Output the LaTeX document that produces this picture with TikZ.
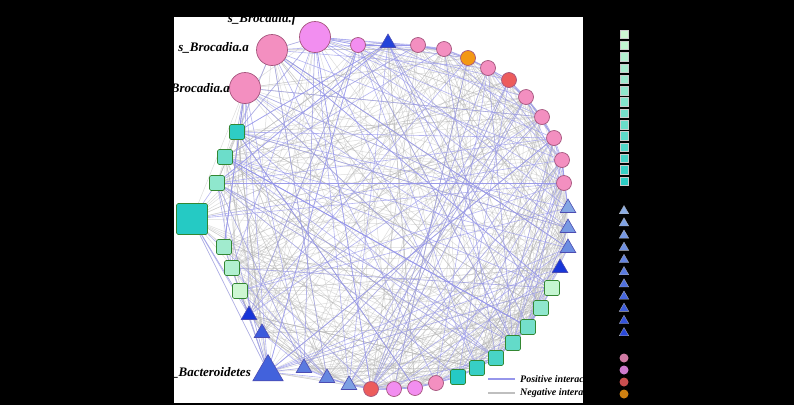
\documentclass[tikz,border=0pt]{standalone}
\usepackage{fontspec}
\setmainfont{Liberation Serif}
\usetikzlibrary{shapes.geometric}

\definecolor{pinkc}{RGB}{243,143,192}
\definecolor{violc}{RGB}{242,142,240}
\definecolor{orgc}{RGB}{243,152,20}
\definecolor{redc}{RGB}{236,92,92}
\definecolor{mintc}{RGB}{205,247,210}
\definecolor{tealc}{RGB}{28,200,195}
\definecolor{skyc}{RGB}{138,172,228}
\definecolor{bluec}{RGB}{18,48,215}
\definecolor{posc}{RGB}{150,150,235}
\definecolor{negc}{RGB}{180,180,180}
\definecolor{rimc}{RGB}{165,85,125}

\pgfdeclarelayer{paper}
\pgfdeclarelayer{links}
\pgfsetlayers{paper,links,main}

\begin{document}
\begin{tikzpicture}[
    x=1pt, y=-1pt,
    dot/.style={circle, draw=rimc, line width=0.7pt, fill=#1, minimum size=15pt, inner sep=0pt},
    bigdot/.style={dot=#1, minimum size=31pt},
    sq/.style={rectangle, rounded corners=1.5pt, draw=black!45!green!60!gray, line width=0.6pt, fill=tealc!#1!mintc, minimum size=15pt, inner sep=0pt},
    tri/.style={regular polygon, regular polygon sides=3, draw=blue!40!gray, line width=0.6pt, fill=bluec!#1!skyc, minimum size=18pt, inner sep=0pt},
    keysq/.style={rectangle, draw=white!60!gray, line width=0.3pt, fill=tealc!#1!mintc, minimum size=8.5pt, inner sep=0pt},
    keytri/.style={regular polygon, regular polygon sides=3, draw=white!40!gray, line width=0.3pt, fill=bluec!#1!skyc, minimum size=11pt, inner sep=0pt},
    keydot/.style={circle, fill=#1, minimum size=9pt, inner sep=0pt},
    poslink/.style={posc, line width=0.6pt, opacity=0.7},
    neglink/.style={negc, line width=0.5pt, opacity=0.45},
    note/.style={font=\bfseries\itshape\fontsize{13}{15}\selectfont, inner sep=0pt},
    keynote/.style={font=\bfseries\itshape\fontsize{10}{12}\selectfont, inner sep=0pt, anchor=west}
]

\begin{pgfonlayer}{paper}
\fill[black] (0,0) rectangle (794,405);
\fill[white] (174,17) rectangle (583,403);
\end{pgfonlayer}

% taxa round the ring
\node[bigdot=pinkc] (n1) at (272,50) {};
\node[bigdot=violc] (n2) at (315,37) {};
\node[dot=violc] (n3) at (358,45) {};
\node[tri=85] (n4) at (388,43) {};
\node[dot=pinkc] (n5) at (418,45) {};
\node[dot=pinkc] (n6) at (444,49) {};
\node[dot=orgc] (n7) at (468,58) {};
\node[dot=pinkc] (n8) at (488,68) {};
\node[dot=redc] (n9) at (509,80) {};
\node[dot=pinkc] (n10) at (526,97) {};
\node[dot=pinkc] (n11) at (542,117) {};
\node[dot=pinkc] (n12) at (554,138) {};
\node[dot=pinkc] (n13) at (562,160) {};
\node[dot=pinkc] (n14) at (564,183) {};
\node[tri=5] (n15) at (568,208) {};
\node[tri=15] (n16) at (568,228) {};
\node[tri=25] (n17) at (568,248) {};
\node[tri=95] (n18) at (560,268) {};
\node[sq=5] (n19) at (552,288) {};
\node[sq=35] (n20) at (541,308) {};
\node[sq=50] (n21) at (528,327) {};
\node[sq=60] (n22) at (513,343) {};
\node[sq=75] (n23) at (496,358) {};
\node[sq=85] (n24) at (477,368) {};
\node[sq=95] (n25) at (458,377) {};
\node[dot=pinkc] (n26) at (436,383) {};
\node[dot=violc] (n27) at (415,388) {};
\node[dot=violc] (n28) at (394,389) {};
\node[dot=redc] (n29) at (371,389) {};
\node[tri=10] (n30) at (349,385) {};
\node[tri=30] (n31) at (327,378) {};
\node[tri=40] (n32) at (304,368) {};
\node[tri=60, minimum size=35pt] (n33) at (268,372) {};
\node[tri=65] (n34) at (262,333) {};
\node[tri=95] (n35) at (249,315) {};
\node[sq=0] (n36) at (240,291) {};
\node[sq=15] (n37) at (232,268) {};
\node[sq=25] (n38) at (224,247) {};
\node[sq=95, minimum size=31pt] (n39) at (192,219) {};
\node[sq=35] (n40) at (217,183) {};
\node[sq=55] (n41) at (225,157) {};
\node[sq=90] (n42) at (237,132) {};
\node[bigdot=pinkc] (n43) at (245,88) {};

% co-occurrence links
\begin{pgfonlayer}{links}
\pgfmathsetseed{4242}
\foreach \k in {1,...,460}{
  \pgfmathrandominteger{\a}{1}{43}
  \pgfmathrandominteger{\b}{1}{43}
  \draw[neglink] (n\a.center) -- (n\b.center);
}
\foreach \k in {1,...,50}{
  \pgfmathrandominteger{\a}{1}{43}
  \pgfmathrandominteger{\b}{1}{43}
  \draw[poslink] (n\a.center) -- (n\b.center);
}
\foreach \h in {1,2,3,4,43,42,41,40,29,14,13,12}{
  \foreach \k in {1,...,7}{
    \pgfmathrandominteger{\b}{1}{43}
    \draw[poslink] (n\h.center) -- (n\b.center);
  }
}
\foreach \i in {1,...,13,19,20,...,29,30,31,32,33}{
  \pgfmathtruncatemacro{\j}{\i+1}
  \pgfmathtruncatemacro{\m}{\i+2}
  \draw[poslink] (n\i.center) -- (n\j.center);
  \draw[poslink] (n\i.center) -- (n\m.center);
}
\end{pgfonlayer}

% labels, cut at the figure edge
\begin{scope}
\clip (174,17) rectangle (583,403);
\node[note, anchor=base] (lbf) at (262,22) {s\_Brocadia.f};
\node[note, anchor=east] (lba) at (249,48) {s\_Brocadia.a};
\node[note, anchor=east] (lbb) at (230,89) {s\_Brocadia.a};
\node[note, anchor=east] (lbc) at (251,373) {s\_Bacteroidetes};
\coordinate (p0) at (488,379);
\coordinate (p1) at (515,379);
\coordinate (q0) at (488,393);
\coordinate (q1) at (515,393);
\draw[posc, line width=1.3pt] (p0) -- (p1);
\draw[negc!85!white, line width=1.3pt] (q0) -- (q1);
\node[keynote] (kp) at (520,379) {Positive interactions};
\node[keynote] (kn) at (520,393) {Negative interactions};
\end{scope}

% key markers on the right
\foreach \k [evaluate=\k as \p using int(\k*7)] in {0,...,13}
  \node[keysq=\p] (ks\k) at (624,34+\k*11.3) {};
\foreach \k [evaluate=\k as \p using int(\k*8)] in {0,...,10}
  \node[keytri=\p] (kt\k) at (624,211+\k*12.2) {};
\node[keydot=pinkc!85!black] (kc1) at (624,358) {};
\node[keydot=violc!85!black] (kc2) at (624,370) {};
\node[keydot=redc!85!black] (kc3) at (624,382) {};
\node[keydot=orgc!85!black] (kc4) at (624,394) {};

\end{tikzpicture}
\end{document}
